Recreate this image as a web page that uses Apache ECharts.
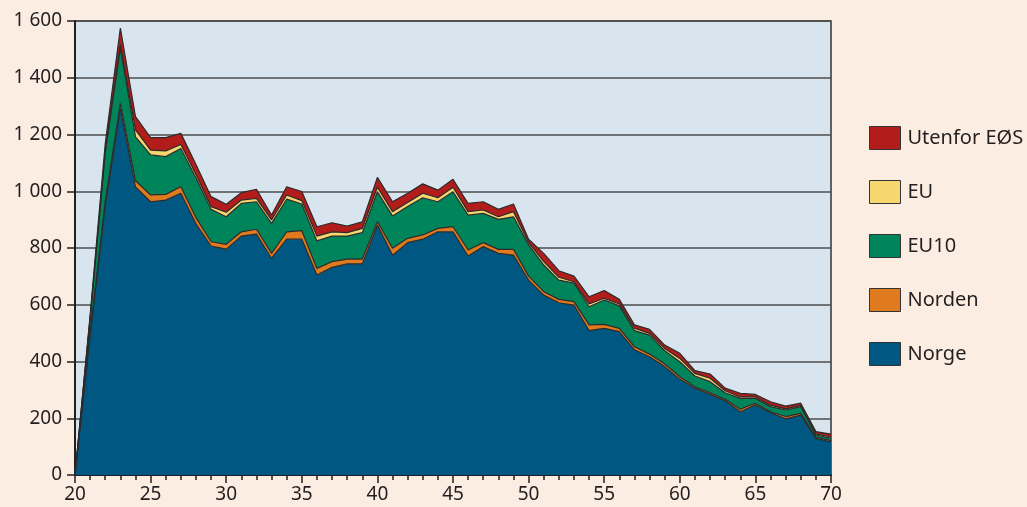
<!DOCTYPE html>
<html>
<head>
<meta charset="utf-8">
<script src="https://cdn.jsdelivr.net/npm/echarts@6/dist/echarts.min.js"></script>
<style>
html,body{margin:0;padding:0;background:#fbede1;}
#chart{width:1027px;height:507px;}
</style>
</head>
<body>
<div id="chart"></div>
<script>
const ages = [20,21,22,23,24,25,26,27,28,29,30,31,32,33,34,35,36,37,38,39,40,41,42,43,44,45,46,47,48,49,50,51,52,53,54,55,56,57,58,59,60,61,62,63,64,65,66,67,68,69,70];
const norge   = [0,490,950,1290,1015,963,969,993,885,807,796,842,849,764,831,831,705,732,744,744,881,775,819,831,857,857,772,805,781,775,687,634,607,599,509,517,505,441,417,382,338,306,284,262,223,247,220,198,211,129,117];
const norden  = [0,10,15,20,22,24,20,23,22,15,17,15,17,17,26,30,23,20,17,17,12,24,15,15,12,18,21,14,14,20,14,12,12,12,20,14,12,11,9,9,8,5,6,5,9,6,3,8,6,4,4];
const eu10    = [0,50,170,195,155,141,133,135,140,114,97,100,97,106,115,94,97,90,81,93,105,114,112,131,94,123,123,103,106,115,110,94,68,65,64,86,79,57,67,47,53,38,39,23,38,17,18,23,24,8,8];
const eu      = [0,3,8,10,24,17,20,14,12,10,16,12,12,12,15,12,17,15,12,15,16,15,14,16,14,16,12,12,9,18,8,12,10,5,10,6,7,8,6,8,12,9,12,7,5,5,5,4,4,4,5];
const utenfor = [0,10,25,60,47,44,47,39,35,35,28,26,32,17,29,32,33,32,23,23,35,35,33,33,27,28,29,29,26,27,12,29,23,20,25,27,16,12,14,12,18,10,15,9,13,9,12,10,8,8,10];
const yTicks = [0,200,400,600,800,1000,1200,1400,1600];
const xTicks = [20,25,30,35,40,45,50,55,60,65,70];

const seriesDefs = [
  {name:'Norge', data:norge, color:'#005882'},
  {name:'Norden', data:norden, color:'#e07a1e'},
  {name:'EU10', data:eu10, color:'#00855b'},
  {name:'EU', data:eu, color:'#f5d66f'},
  {name:'Utenfor EØS', data:utenfor, color:'#b21c1a'}
];

const chart = echarts.init(document.getElementById('chart'), null, {renderer:'canvas'});
const font = '"Noto Sans", "DejaVu Sans", sans-serif';
chart.setOption({
  animation:false,
  backgroundColor:'#fbede1',
  textStyle:{fontFamily:font},
  grid:{left:75,right:196,top:21,bottom:32,show:true,backgroundColor:'#d9e5ee',borderColor:'#333',borderWidth:1.5},
  legend:{
    orient:'vertical',left:864,top:121,itemWidth:31,itemHeight:23,itemGap:30,icon:'rect',
    textStyle:{fontFamily:font,fontSize:20,color:'#231f20',padding:[0,0,0,2]},
    data:['Utenfor EØS','EU','EU10','Norden','Norge'].map(n=>{
      const s = seriesDefs.find(d=>d.name===n);
      return {name:n,itemStyle:{color:s.color,borderColor:'#333',borderWidth:1}};
    }),
    selectedMode:false
  },
  xAxis:[{
    type:'category',data:ages.map(String),boundaryGap:false,show:false
  },{
    type:'value',min:20,max:70,interval:5,position:'bottom',
    axisLine:{show:true,onZero:false,lineStyle:{color:'#231f20',width:2}},
    axisTick:{show:true,length:8,lineStyle:{color:'#231f20',width:1.5}},
    minorTick:{show:true,splitNumber:5,length:5,lineStyle:{color:'#231f20',width:1.5}},
    splitLine:{show:false},
    axisLabel:{fontFamily:font,fontSize:19,color:'#231f20',margin:10,
      formatter:v=>xTicks.includes(v)?String(v):''}
  }],
  yAxis:{
    type:'value',min:0,max:1600,interval:200,
    axisLine:{show:true,lineStyle:{color:'#231f20',width:2}},
    axisTick:{show:true,length:8,lineStyle:{color:'#231f20',width:1.5}},
    splitLine:{show:true,lineStyle:{color:'#4d4d4d',width:1.5}},
    axisLabel:{fontFamily:font,fontSize:19,color:'#231f20',margin:13,
      formatter:v=>yTicks.includes(v)?String(v).replace(/\B(?=(\d{3})+(?!\d))/g,' '):''}
  },
  series:seriesDefs.map(s=>({
    name:s.name,type:'line',stack:'total',symbol:'none',xAxisIndex:0,
    data:s.data,
    itemStyle:{color:s.color},
    lineStyle:{color:'#2b2b2b',width:1.2},
    areaStyle:{color:s.color,opacity:1},
    emphasis:{disabled:true}
  }))
});
</script>
</body>
</html>
